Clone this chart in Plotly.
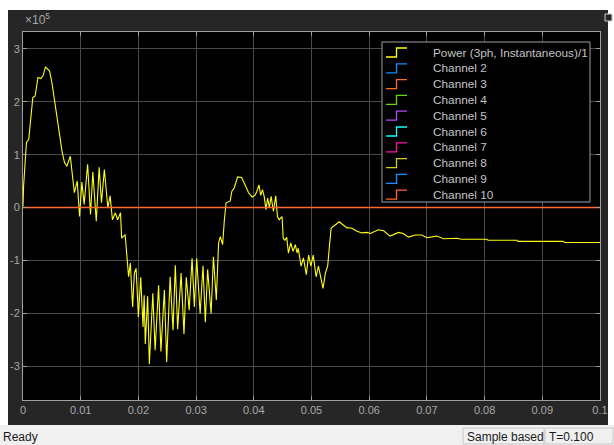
import plotly.graph_objects as go

# ---------------- data ----------------
time_s = [0.0000, 0.0001, 0.0004, 0.0006, 0.0010, 0.0014, 0.0017, 0.0021, 0.0026, 0.0031,
          0.0035, 0.0039, 0.0046, 0.0050, 0.0056, 0.0062, 0.0068, 0.0072, 0.0076, 0.0082,
          0.0085, 0.0089, 0.0094, 0.0098, 0.0102, 0.0106, 0.0112, 0.0117, 0.0121, 0.0127,
          0.0132, 0.0136, 0.0141, 0.0147, 0.0151, 0.0155, 0.0160, 0.0164, 0.0169, 0.0171,
          0.0177, 0.0180, 0.0183, 0.0186, 0.0190, 0.0193, 0.0196, 0.0200, 0.0204, 0.0208,
          0.0210, 0.0212, 0.0216, 0.0219, 0.0225, 0.0229, 0.0235, 0.0239, 0.0245, 0.0249,
          0.0255, 0.0260, 0.0264, 0.0268, 0.0274, 0.0279, 0.0283, 0.0288, 0.0293, 0.0297,
          0.0301, 0.0307, 0.0312, 0.0316, 0.0320, 0.0326, 0.0330, 0.0335, 0.0339, 0.0342,
          0.0346, 0.0349, 0.0352, 0.0359, 0.0362, 0.0366, 0.0372, 0.0379, 0.0385, 0.0391,
          0.0397, 0.0402, 0.0405, 0.0409, 0.0412, 0.0415, 0.0418, 0.0421, 0.0424, 0.0427,
          0.0430, 0.0434, 0.0438, 0.0441, 0.0444, 0.0449, 0.0451, 0.0454, 0.0457, 0.0460,
          0.0464, 0.0468, 0.0472, 0.0475, 0.0477, 0.0482, 0.0486, 0.0491, 0.0495, 0.0499,
          0.0503, 0.0508, 0.0512, 0.0516, 0.0520, 0.0524, 0.0528, 0.0531, 0.0534, 0.0541,
          0.0548, 0.0555, 0.0561, 0.0570, 0.0579, 0.0587, 0.0596, 0.0602, 0.0616, 0.0625,
          0.0636, 0.0651, 0.0659, 0.0668, 0.0680, 0.0691, 0.0700, 0.0717, 0.0729, 0.0752,
          0.0760, 0.0804, 0.0806, 0.0856, 0.0858, 0.0936, 0.0939, 0.1000]

power_x1e5 = [0.02, 0.40, 0.91, 1.23, 1.29, 1.73, 2.08, 2.11, 2.46, 2.44,
              2.50, 2.66, 2.58, 2.37, 1.92, 1.48, 1.04, 0.85, 0.78, 0.97,
              0.70, 0.28, 0.50, -0.17, 0.48, 0.06, 0.82, -0.13, 0.67, -0.26,
              0.76, 0.09, 0.72, 0.00, 0.22, -0.23, -0.10, -0.23, -0.10, -0.58,
              -0.51, -0.96, -1.31, -1.05, -1.88, -1.24, -1.15, -2.07, -1.32, -2.26,
              -1.66, -2.58, -1.68, -2.96, -1.62, -2.70, -1.47, -2.72, -1.56, -2.92,
              -1.31, -2.32, -1.09, -2.30, -1.24, -2.39, -1.32, -1.94, -0.96, -1.88,
              -0.96, -2.01, -1.10, -2.17, -1.17, -2.01, -0.93, -1.75, -0.67, -0.55,
              -0.70, -0.23, 0.09, 0.12, 0.31, 0.37, 0.58, 0.57, 0.41, 0.28,
              0.20, 0.23, 0.30, 0.43, 0.23, 0.34, 0.21, -0.04, 0.18, 0.00,
              0.21, -0.07, 0.22, -0.17, -0.23, -0.17, -0.58, -0.62, -0.56, -0.86,
              -0.67, -0.83, -0.70, -0.86, -0.77, -1.11, -0.95, -1.27, -0.90, -1.11,
              -0.90, -1.31, -1.11, -1.34, -1.53, -1.24, -1.11, -0.74, -0.39, -0.33,
              -0.27, -0.33, -0.38, -0.39, -0.45, -0.48, -0.47, -0.49, -0.42, -0.44,
              -0.54, -0.47, -0.49, -0.56, -0.52, -0.52, -0.57, -0.54, -0.59, -0.58,
              -0.60, -0.60, -0.62, -0.62, -0.64, -0.64, -0.66, -0.66]

zero_time = [0.0, 0.1]
zero_values = [0.0, 0.0]

channel_names = ["Power (3ph, Instantaneous)/1", "Channel 2", "Channel 3", "Channel 4",
                 "Channel 5", "Channel 6", "Channel 7", "Channel 8", "Channel 9", "Channel 10"]
channel_colors = ["#ffff11", "#1390ff", "#ff6929", "#64d413", "#b746ff",
                  "#0fffff", "#ff13a6", "#d0d010", "#1390ff", "#ff6929"]

x_ticks = [0, 0.01, 0.02, 0.03, 0.04, 0.05, 0.06, 0.07, 0.08, 0.09, 0.1]
x_tick_labels = ["0", "0.01", "0.02", "0.03", "0.04", "0.05", "0.06", "0.07", "0.08", "0.09", "0.1"]
y_ticks = [-3, -2, -1, 0, 1, 2, 3]
y_tick_labels = ["-3", "-2", "-1", "0", "1", "2", "3"]

# ---------------- layout geometry (pixels) ----------------
W, H = 614, 445
ML, MR, MT, MB = 23, 14, 32, 45
PW, PH = W - ML - MR, H - MT - MB


def px(x):
    return (x - ML) / PW


def py(y):
    return (H - MB - y) / PH


FONT = "Liberation Sans, Arial, sans-serif"

fig = go.Figure()

fig.add_trace(go.Scatter(x=time_s, y=power_x1e5, mode="lines", name=channel_names[0],
                         line=dict(color=channel_colors[0], width=1.1)))
# channels 2..10 are all zero; only the last one drawn (channel 10) is visible on top
for i in range(1, 10):
    fig.add_trace(go.Scatter(x=zero_time, y=zero_values, mode="lines", name=channel_names[i],
                             line=dict(color=channel_colors[i], width=1.4), hoverinfo="skip",
                             visible=True if i == 9 else "legendonly"))

axis_font = dict(family=FONT, size=11, color="#a8a8a8")

fig.update_xaxes(range=[0, 0.1], tickvals=x_ticks, ticktext=x_tick_labels,
                 showgrid=True, gridcolor="#4a4a4a", gridwidth=1, zeroline=False,
                 showline=True, linecolor="#a0a0a0", linewidth=1, mirror="ticks",
                 ticks="inside", ticklen=4, tickcolor="#a0a0a0", tickfont=axis_font,
                 automargin=False)
fig.update_yaxes(range=[-3.64, 3.32], tickvals=y_ticks, ticktext=y_tick_labels,
                 showgrid=True, gridcolor="#4a4a4a", gridwidth=1, zeroline=False,
                 showline=True, linecolor="#a0a0a0", linewidth=1, mirror="ticks",
                 ticks="inside", ticklen=4, tickcolor="#a0a0a0", tickfont=axis_font,
                 ticklabelstandoff=0, automargin=False)

shapes = []
# dark scope background
shapes.append(dict(type="rect", xref="paper", yref="paper", layer="below",
                   x0=px(8), x1=px(608), y0=py(425), y1=py(10),
                   fillcolor="#262626", line=dict(width=0)))
# black plot area
shapes.append(dict(type="rect", xref="paper", yref="paper", layer="below",
                   x0=0, x1=1, y0=0, y1=1,
                   fillcolor="#000000", line=dict(width=0)))
# status bar
shapes.append(dict(type="rect", xref="paper", yref="paper", layer="below",
                   x0=px(0), x1=px(614), y0=py(445), y1=py(425),
                   fillcolor="#f0f0f0", line=dict(width=0)))
shapes.append(dict(type="rect", xref="paper", yref="paper", layer="below",
                   x0=px(463), x1=px(544), y0=py(444), y1=py(428),
                   fillcolor="#f0f0f0", line=dict(color="#c8c8c8", width=1)))
shapes.append(dict(type="rect", xref="paper", yref="paper", layer="below",
                   x0=px(545), x1=px(613), y0=py(444), y1=py(428),
                   fillcolor="#f0f0f0", line=dict(color="#c8c8c8", width=1)))
# small undock icon at top right
shapes.append(dict(type="rect", xref="paper", yref="paper",
                   x0=px(605), x1=px(612), y0=py(21), y1=py(14),
                   fillcolor="#262626", line=dict(color="#d0d0d0", width=1)))

# legend box
shapes.append(dict(type="rect", xref="paper", yref="paper",
                   x0=px(382), x1=px(590), y0=py(202), y1=py(42),
                   fillcolor="#000000", line=dict(color="#a0a0a0", width=1)))

annotations = []
for i, (name, col) in enumerate(zip(channel_names, channel_colors)):
    yc = 52.5 + i * 15.8
    x0, xm, x1 = px(386), px(396.5), px(407)
    ylo, yhi = py(yc + 4.5), py(yc - 4.5)
    shapes.append(dict(type="path", xref="paper", yref="paper",
                       path=f"M {x0} {ylo} L {xm} {ylo} L {xm} {yhi} L {x1} {yhi}",
                       line=dict(color=col, width=1.3)))
    annotations.append(dict(x=px(431), y=py(yc), xref="paper", yref="paper",
                            text=name, showarrow=False, xanchor="left", yanchor="middle",
                            font=dict(family=FONT, size=11.8, color="#c4c4c4")))

annotations.append(dict(x=px(23), y=py(19), xref="paper", yref="paper",
                        text="×10<sup>5</sup>", showarrow=False, xanchor="left", yanchor="middle",
                        font=dict(family=FONT, size=12, color="#a8a8a8")))
annotations.append(dict(x=px(1), y=py(437), xref="paper", yref="paper",
                        text="Ready", showarrow=False, xanchor="left", yanchor="middle",
                        font=dict(family=FONT, size=12, color="#1a1a1a")))
annotations.append(dict(x=px(465), y=py(437), xref="paper", yref="paper",
                        text="Sample based", showarrow=False, xanchor="left", yanchor="middle",
                        font=dict(family=FONT, size=12, color="#1a1a1a")))
annotations.append(dict(x=px(547), y=py(437), xref="paper", yref="paper",
                        text="T=0.100", showarrow=False, xanchor="left", yanchor="middle",
                        font=dict(family=FONT, size=12, color="#1a1a1a")))

fig.update_layout(width=W, height=H, margin=dict(l=ML, r=MR, t=MT, b=MB, pad=0),
                  paper_bgcolor="#ffffff", plot_bgcolor="#000000",
                  showlegend=False, shapes=shapes, annotations=annotations,
                  font=axis_font)

fig.write_html("out.html", config={"displayModeBar": False},
               post_script="document.body.style.margin='0';document.body.style.overflow='hidden';")
